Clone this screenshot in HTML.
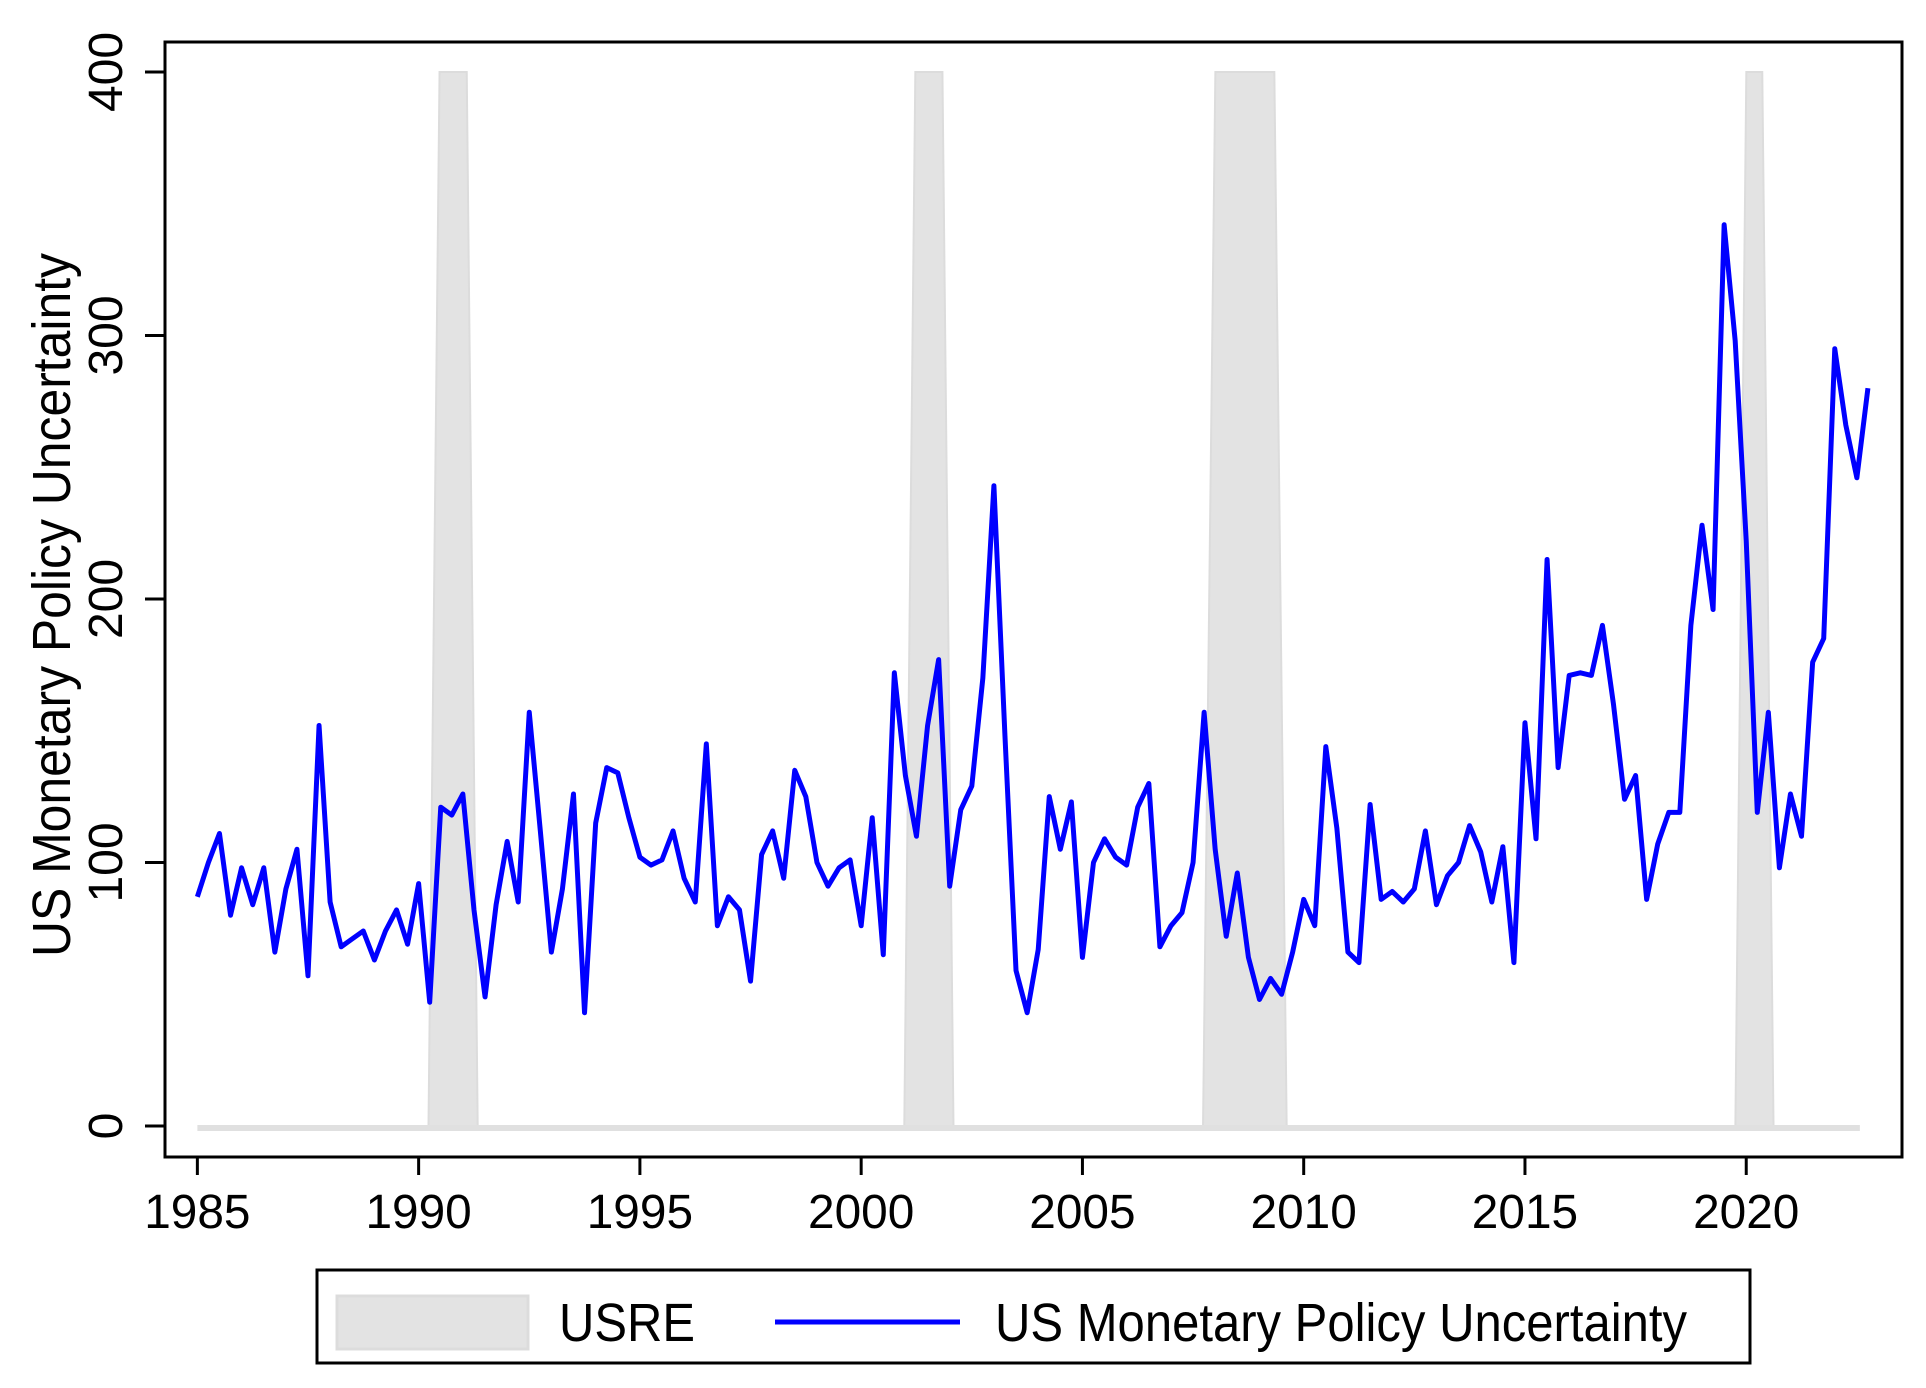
<!DOCTYPE html>
<html><head><meta charset="utf-8"><style>html,body{margin:0;padding:0;background:#fff}svg{display:block}</style></head>
<body>
<svg id="s" width="1926" height="1388" viewBox="0 0 1926 1388" xmlns="http://www.w3.org/2000/svg" font-family="Liberation Sans, Arial, sans-serif">
<rect width="1926" height="1388" fill="#fff"/>
<g transform="translate(166,0) scale(0.9958,1) translate(-166,0)">
<g fill="#e3e3e3" stroke="#dcdcdc" stroke-width="2">
<polygon points="429.6,1126 440.7,72 468,72 479,1126"/>
<polygon points="907.4,1126 918.5,72 945.7,72 956.8,1126"/>
<polygon points="1207.4,1126 1219.8,72 1279,72 1291.4,1126"/>
<polygon points="1742,1126 1753,72 1769,72 1780.3,1126"/>
</g>
<line x1="197.5" y1="1128" x2="1867" y2="1128" stroke="#e0e0e0" stroke-width="6"/>
<polyline id="pl" fill="none" stroke="#0000ff" stroke-width="5" stroke-linejoin="round" points=""/>
<g id="xt" stroke="#000" stroke-width="3"></g>
<g id="xl" font-size="48" text-anchor="middle"></g>
</g>
<rect x="165" y="42" width="1737" height="1115" fill="none" stroke="#000" stroke-width="3"/>
<g stroke="#000" stroke-width="3">
<line x1="145" y1="72" x2="165" y2="72"/><line x1="145" y1="335.5" x2="165" y2="335.5"/>
<line x1="145" y1="599" x2="165" y2="599"/><line x1="145" y1="862.5" x2="165" y2="862.5"/>
<line x1="145" y1="1126" x2="165" y2="1126"/>
</g>
<g font-size="48" text-anchor="middle" fill="#000">
<text transform="translate(122,72) rotate(-90)">400</text>
<text transform="translate(122,335.5) rotate(-90)">300</text>
<text transform="translate(122,599) rotate(-90)">200</text>
<text transform="translate(122,862.5) rotate(-90)">100</text>
<text transform="translate(122,1126) rotate(-90)">0</text>
</g>
<text transform="translate(70,605) rotate(-90)" font-size="54" text-anchor="middle" textLength="704" lengthAdjust="spacingAndGlyphs">US Monetary Policy Uncertainty</text>
<rect x="317" y="1270" width="1433" height="93" fill="none" stroke="#000" stroke-width="3"/>
<rect x="337" y="1296" width="191" height="53" fill="#e3e3e3" stroke="#dcdcdc" stroke-width="3"/>
<text x="559" y="1341" font-size="54" textLength="136" lengthAdjust="spacingAndGlyphs">USRE</text>
<line x1="775" y1="1322" x2="960" y2="1322" stroke="#0000ff" stroke-width="5"/>
<text x="995" y="1341" font-size="54" textLength="692" lengthAdjust="spacingAndGlyphs">US Monetary Policy Uncertainty</text>
</svg>
<script>
var v=[87,100,111,80,98,84,98,66,90,105,57,152,85,68,71,74,63,74,82,69,92,47,121,118,126,82,49,84,108,85,157,112,66,90,126,43,115,136,134,117,102,99,101,112,94,85,145,76,87,82,55,103,112,94,135,125,100,91,98,101,76,117,65,172,133,110,152,177,91,120,129,170,243,148,59,43,67,125,105,123,64,100,109,102,99,121,130,68,76,81,100,157,105,72,96,64,48,56,50,66,86,76,144,113,66,62,122,86,89,85,90,112,84,95,100,114,104,85,106,62,153,109,215,136,171,172,171,190,160,124,133,86,107,119,119,190,228,196,342,298,222,119,157,98,126,110,176,185,295,266,246,280];
var p=v.map(function(a,i){return (197.5+i*11.11).toFixed(1)+","+(1126-a*2.635).toFixed(1)}).join(" ");
document.getElementById("pl").setAttribute("points",p);
var xt="",xl="";
for(var y=1985;y<=2020;y+=5){var x=197.5+(y-1985)*44.44;
xt+='<line x1="'+x+'" y1="1158" x2="'+x+'" y2="1175"/>';
xl+='<text x="'+x+'" y="1228">'+y+'</text>';}
document.getElementById("xt").innerHTML=xt;document.getElementById("xl").innerHTML=xl;
</script>
</body></html>
